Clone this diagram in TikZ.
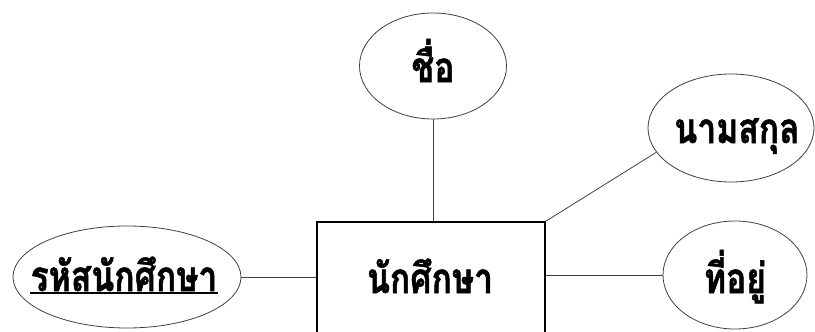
\documentclass[tikz,border=0pt]{standalone}
\usepackage{fontspec}
\newfontfamily\thaifont[Script=Thai,FakeStretch=0.8,BoldFeatures={FakeBold=1.2}]{Loma}
\usetikzlibrary{shapes.geometric}
\tikzset{
  attr/.style={ellipse, draw=black!75, line width=0.8pt, inner sep=0pt},
  entity/.style={rectangle, draw=black, line width=2.4pt, inner sep=0pt},
  lbl/.style={inner sep=0pt, anchor=base, font=\thaifont\bfseries\fontsize{42}{46}\selectfont},
  link/.style={draw=black!75, line width=0.8pt}
}
\begin{document}
\begin{tikzpicture}[x=1pt,y=-1pt]
\useasboundingbox (0,0) rectangle (815,332);
\clip (0,0) rectangle (815,332);
% entity
\node[entity, minimum width=228pt, minimum height=200pt, anchor=north] (ent) at (431,221) {};
\node[lbl] (entt) at (430,293) {นักศึกษา};
% attributes
\node[attr, minimum width=147pt, minimum height=106pt] (name) at (433,66) {};
\node[lbl] (namet) at (433,82) {ชื่อ};
\node[attr, minimum width=166pt, minimum height=108pt] (sur) at (731,128) {};
\node[lbl] (surt) at (737,143) {นามสกุล};
\node[attr, minimum width=228pt, minimum height=102pt] (rid) at (127,277) {};
\node[lbl] (ridt) at (124,291) {รหัสนักศึกษา};
\node[attr, minimum width=144pt, minimum height=108pt] (addr) at (735,275) {};
\node[lbl] (addrt) at (735,293) {ที่อยู่};
\draw[line width=2.4pt] ([yshift=-2pt]ridt.base west) -- ([yshift=-2pt]ridt.base east);
% connectors
\draw[link] (name.south) -- (name.south |- ent.north);
\draw[link] (ent.north east) -- (sur.198);
\draw[link] (addr.west) -- (addr.west -| ent.east);
\draw[link] (rid.east) -- (rid.east -| ent.west);
\end{tikzpicture}
\end{document}
